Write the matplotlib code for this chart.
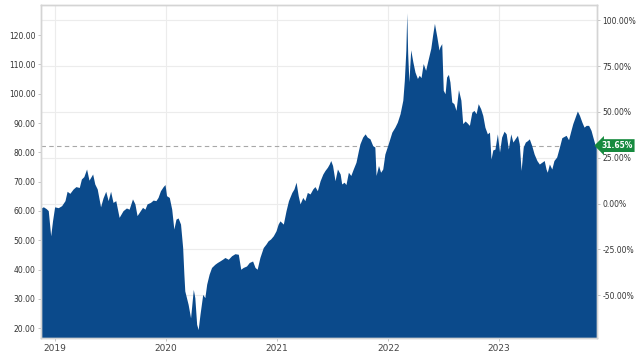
import matplotlib.pyplot as plt
import matplotlib.dates as mdates
import pandas as pd

# price history
dates = [
    '2018-11-16', '2018-11-18', '2018-11-24', '2018-12-03', '2018-12-10', '2018-12-18',
    '2018-12-24', '2018-12-31', '2019-01-12', '2019-01-23', '2019-02-03', '2019-02-10',
    '2019-02-19', '2019-03-02', '2019-03-11', '2019-03-22', '2019-03-29', '2019-04-06',
    '2019-04-15', '2019-04-23', '2019-05-05', '2019-05-12', '2019-05-20', '2019-05-31',
    '2019-06-08', '2019-06-17', '2019-06-25', '2019-07-03', '2019-07-11', '2019-07-20',
    '2019-07-31', '2019-08-13', '2019-08-24', '2019-09-02', '2019-09-13', '2019-09-21',
    '2019-09-28', '2019-10-07', '2019-10-16', '2019-10-24', '2019-10-31', '2019-11-11',
    '2019-11-20', '2019-11-29', '2019-12-06', '2019-12-14', '2019-12-23', '2019-12-29',
    '2020-01-03', '2020-01-12', '2020-01-20', '2020-01-27', '2020-02-03', '2020-02-10',
    '2020-02-18', '2020-02-25', '2020-02-29', '2020-03-03', '2020-03-14', '2020-03-22',
    '2020-03-31', '2020-04-05', '2020-04-11', '2020-04-16', '2020-04-22', '2020-05-01',
    '2020-05-08', '2020-05-14', '2020-05-22', '2020-05-30', '2020-06-10', '2020-06-18',
    '2020-06-26', '2020-07-05', '2020-07-13', '2020-07-24', '2020-08-04', '2020-08-15',
    '2020-08-26', '2020-09-03', '2020-09-11', '2020-09-22', '2020-10-01', '2020-10-12',
    '2020-10-20', '2020-10-27', '2020-11-05', '2020-11-16', '2020-11-25', '2020-12-02',
    '2020-12-10', '2020-12-19', '2020-12-28', '2021-01-04', '2021-01-10', '2021-01-21',
    '2021-01-30', '2021-02-07', '2021-02-18', '2021-02-25', '2021-03-04', '2021-03-11',
    '2021-03-17', '2021-03-26', '2021-04-02', '2021-04-10', '2021-04-19', '2021-04-28',
    '2021-05-05', '2021-05-13', '2021-05-22', '2021-05-31', '2021-06-07', '2021-06-15',
    '2021-06-21', '2021-06-26', '2021-07-02', '2021-07-10', '2021-07-18', '2021-07-27',
    '2021-08-01', '2021-08-09', '2021-08-15', '2021-08-23', '2021-08-31', '2021-09-08',
    '2021-09-17', '2021-09-25', '2021-09-30', '2021-10-09', '2021-10-17', '2021-10-24',
    '2021-11-02', '2021-11-11', '2021-11-18', '2021-11-22', '2021-11-30', '2021-12-07',
    '2021-12-14', '2021-12-21', '2022-01-01', '2022-01-13', '2022-01-23', '2022-01-31',
    '2022-02-09', '2022-02-18', '2022-02-23', '2022-02-28', '2022-03-03', '2022-03-06',
    '2022-03-10', '2022-03-16', '2022-03-23', '2022-03-30', '2022-04-07', '2022-04-13',
    '2022-04-19', '2022-04-26', '2022-05-04', '2022-05-13', '2022-05-21', '2022-05-27',
    '2022-06-02', '2022-06-10', '2022-06-17', '2022-06-20', '2022-06-26', '2022-07-01',
    '2022-07-07', '2022-07-12', '2022-07-18', '2022-07-23', '2022-07-29', '2022-08-05',
    '2022-08-12', '2022-08-20', '2022-08-28', '2022-09-03', '2022-09-11', '2022-09-18',
    '2022-09-25', '2022-10-03', '2022-10-10', '2022-10-17', '2022-10-24', '2022-11-01',
    '2022-11-08', '2022-11-15', '2022-11-23', '2022-11-30', '2022-12-05', '2022-12-11',
    '2022-12-18', '2022-12-26', '2023-01-02', '2023-01-09', '2023-01-17', '2023-01-24',
    '2023-01-31', '2023-02-08', '2023-02-15', '2023-02-22', '2023-03-02', '2023-03-08',
    '2023-03-14', '2023-03-21', '2023-03-28', '2023-04-04', '2023-04-10', '2023-04-18',
    '2023-04-26', '2023-05-05', '2023-05-13', '2023-05-21', '2023-05-29', '2023-06-04',
    '2023-06-08', '2023-06-15', '2023-06-23', '2023-06-30', '2023-07-09', '2023-07-18',
    '2023-07-26', '2023-08-02', '2023-08-09', '2023-08-17', '2023-08-25', '2023-08-31',
    '2023-09-08', '2023-09-15', '2023-09-22', '2023-09-30', '2023-10-07', '2023-10-14',
    '2023-10-22', '2023-10-30', '2023-11-05', '2023-11-13', '2023-11-19',
]
prices = [
    61.0, 61.1, 61.4, 60.8, 60.1, 51.5,
    56.6, 61.4, 61.1, 61.8, 63.5, 66.7,
    66.0, 67.5, 68.3, 68.0, 70.9, 71.7,
    74.3, 70.5, 72.6, 69.2, 67.5, 61.4,
    64.4, 66.7, 63.5, 66.7, 62.9, 63.5,
    57.8, 60.1, 61.0, 60.6, 64.1, 62.4,
    58.4, 59.8, 61.2, 60.6, 62.4, 62.9,
    63.7, 63.5, 64.6, 66.9, 68.3, 69.0,
    65.2, 64.6, 60.6, 53.8, 57.2, 57.6,
    55.5, 47.5, 38.4, 32.7, 28.1, 23.5,
    33.2, 30.4, 21.3, 19.5, 24.7, 31.5,
    30.4, 35.0, 38.4, 40.7, 41.8, 42.4,
    42.9, 43.5, 44.1, 43.5, 44.7, 45.4,
    45.2, 40.1, 40.7, 41.2, 42.4, 42.9,
    40.7, 40.1, 44.1, 47.5, 48.7, 49.8,
    50.4, 51.5, 53.2, 55.5, 56.6, 55.5,
    60.1, 63.5, 66.3, 67.5, 69.8, 65.2,
    62.4, 64.6, 63.5, 66.3, 65.8, 67.5,
    68.3, 66.9, 70.3, 72.6, 73.8, 74.9,
    76.0, 77.2, 75.5, 70.3, 74.3, 72.6,
    69.2, 69.8, 69.0, 73.2, 72.1, 74.3,
    76.6, 80.6, 82.9, 85.2, 86.3, 85.2,
    84.6, 82.3, 81.8, 72.1, 75.5, 73.2,
    74.3, 79.4, 82.9, 86.9, 88.6, 90.3,
    93.2, 97.8, 104.6, 114.9, 127.6, 113.8,
    104.1, 115.0, 110.9, 107.4, 105.2, 106.3,
    105.5, 110.3, 108.0, 112.0, 115.5, 120.0,
    124.0, 119.4, 114.9, 116.0, 117.1, 101.2,
    100.0, 105.7, 106.6, 104.0, 97.2, 96.6,
    94.3, 101.4, 97.8, 89.8, 90.7, 90.0,
    89.2, 93.7, 94.3, 93.2, 96.6, 94.9,
    92.6, 88.6, 86.3, 86.9, 77.7, 80.8,
    81.1, 86.3, 80.1, 85.2, 87.2, 86.3,
    81.1, 86.3, 83.5, 84.6, 85.8, 82.9,
    73.8, 81.8, 83.5, 84.0, 84.6, 82.3,
    79.4, 77.2, 76.0, 76.6, 77.2, 74.3,
    73.2, 76.0, 74.3, 77.2, 78.4, 81.8,
    85.0, 85.4, 85.8, 84.3, 87.5, 89.8,
    92.1, 94.1, 92.6, 90.3, 88.6, 89.2,
    89.2, 87.5, 85.2, 82.3, 82.3,
]
last_change_pct = 31.65
price_ticks = [20, 30, 40, 50, 60, 70, 80, 90, 100, 110, 120]
pct_ticks = [-50, -25, 0, 25, 50, 75, 100]
year_labels = ['2019', '2020', '2021', '2022', '2023']

dates = pd.to_datetime(dates)
base_price = prices[-1] / (1 + last_change_pct / 100)
y_lo, y_hi = 16.6, 130.3

area_color = '#0b4a8b'
grid_color = '#ececec'
spine_color = '#d4d4d4'
text_color = '#333333'

fig = plt.figure(figsize=(6.4, 3.54), dpi=100)
ax = fig.add_axes([0.064, 0.045, 0.869, 0.941])

# horizontal grid follows the percent axis
for p in pct_ticks:
    ax.axhline(base_price * (1 + p / 100), color=grid_color, lw=0.8, zorder=0)
ax.grid(axis='x', color=grid_color, lw=0.8)
ax.set_axisbelow(True)

ax.axhline(prices[-1], color='#a8a8a8', lw=0.8, ls=(0, (4, 3)), zorder=1)
ax.fill_between(dates, prices, y_lo, color=area_color, lw=0, zorder=2)

ax.set_xlim(pd.Timestamp('2018-11-16'), pd.Timestamp('2023-11-19'))
ax.set_ylim(y_lo, y_hi)
ax.set_yticks(price_ticks)
ax.set_yticklabels([f'{v:.2f}' for v in price_ticks])
ax.set_xticks(pd.to_datetime([y + '-01-01' for y in year_labels]))
ax.set_xticklabels(year_labels)

ax2 = ax.twinx()
ax2.set_ylim((y_lo / base_price - 1) * 100, (y_hi / base_price - 1) * 100)
ax2.set_yticks(pct_ticks)
ax2.set_yticklabels([f'{v:.2f}%' for v in pct_ticks])

for a in (ax, ax2):
    for s in a.spines.values():
        s.set_color(spine_color)
        s.set_linewidth(1.0)
    a.tick_params(axis='y', length=2.5, width=0.6, color='#bbbbbb',
                  labelsize=5.5, labelcolor=text_color, pad=1.5)
ax.tick_params(axis='x', length=2.5, width=0.6, color='#bbbbbb',
               labelsize=6.5, labelcolor='#444444', pad=1.5)

ax2.annotate(f'{last_change_pct:.2f}%', xy=(1, last_change_pct),
             xycoords=('axes fraction', 'data'), xytext=(3, 0),
             textcoords='offset points', ha='left', va='center',
             color='white', fontsize=5.5, fontweight='bold',
             bbox=dict(boxstyle='larrow,pad=0.25', fc='#168a3e', ec='none'),
             zorder=5, annotation_clip=False)

fig.savefig('out.png', dpi=100)
